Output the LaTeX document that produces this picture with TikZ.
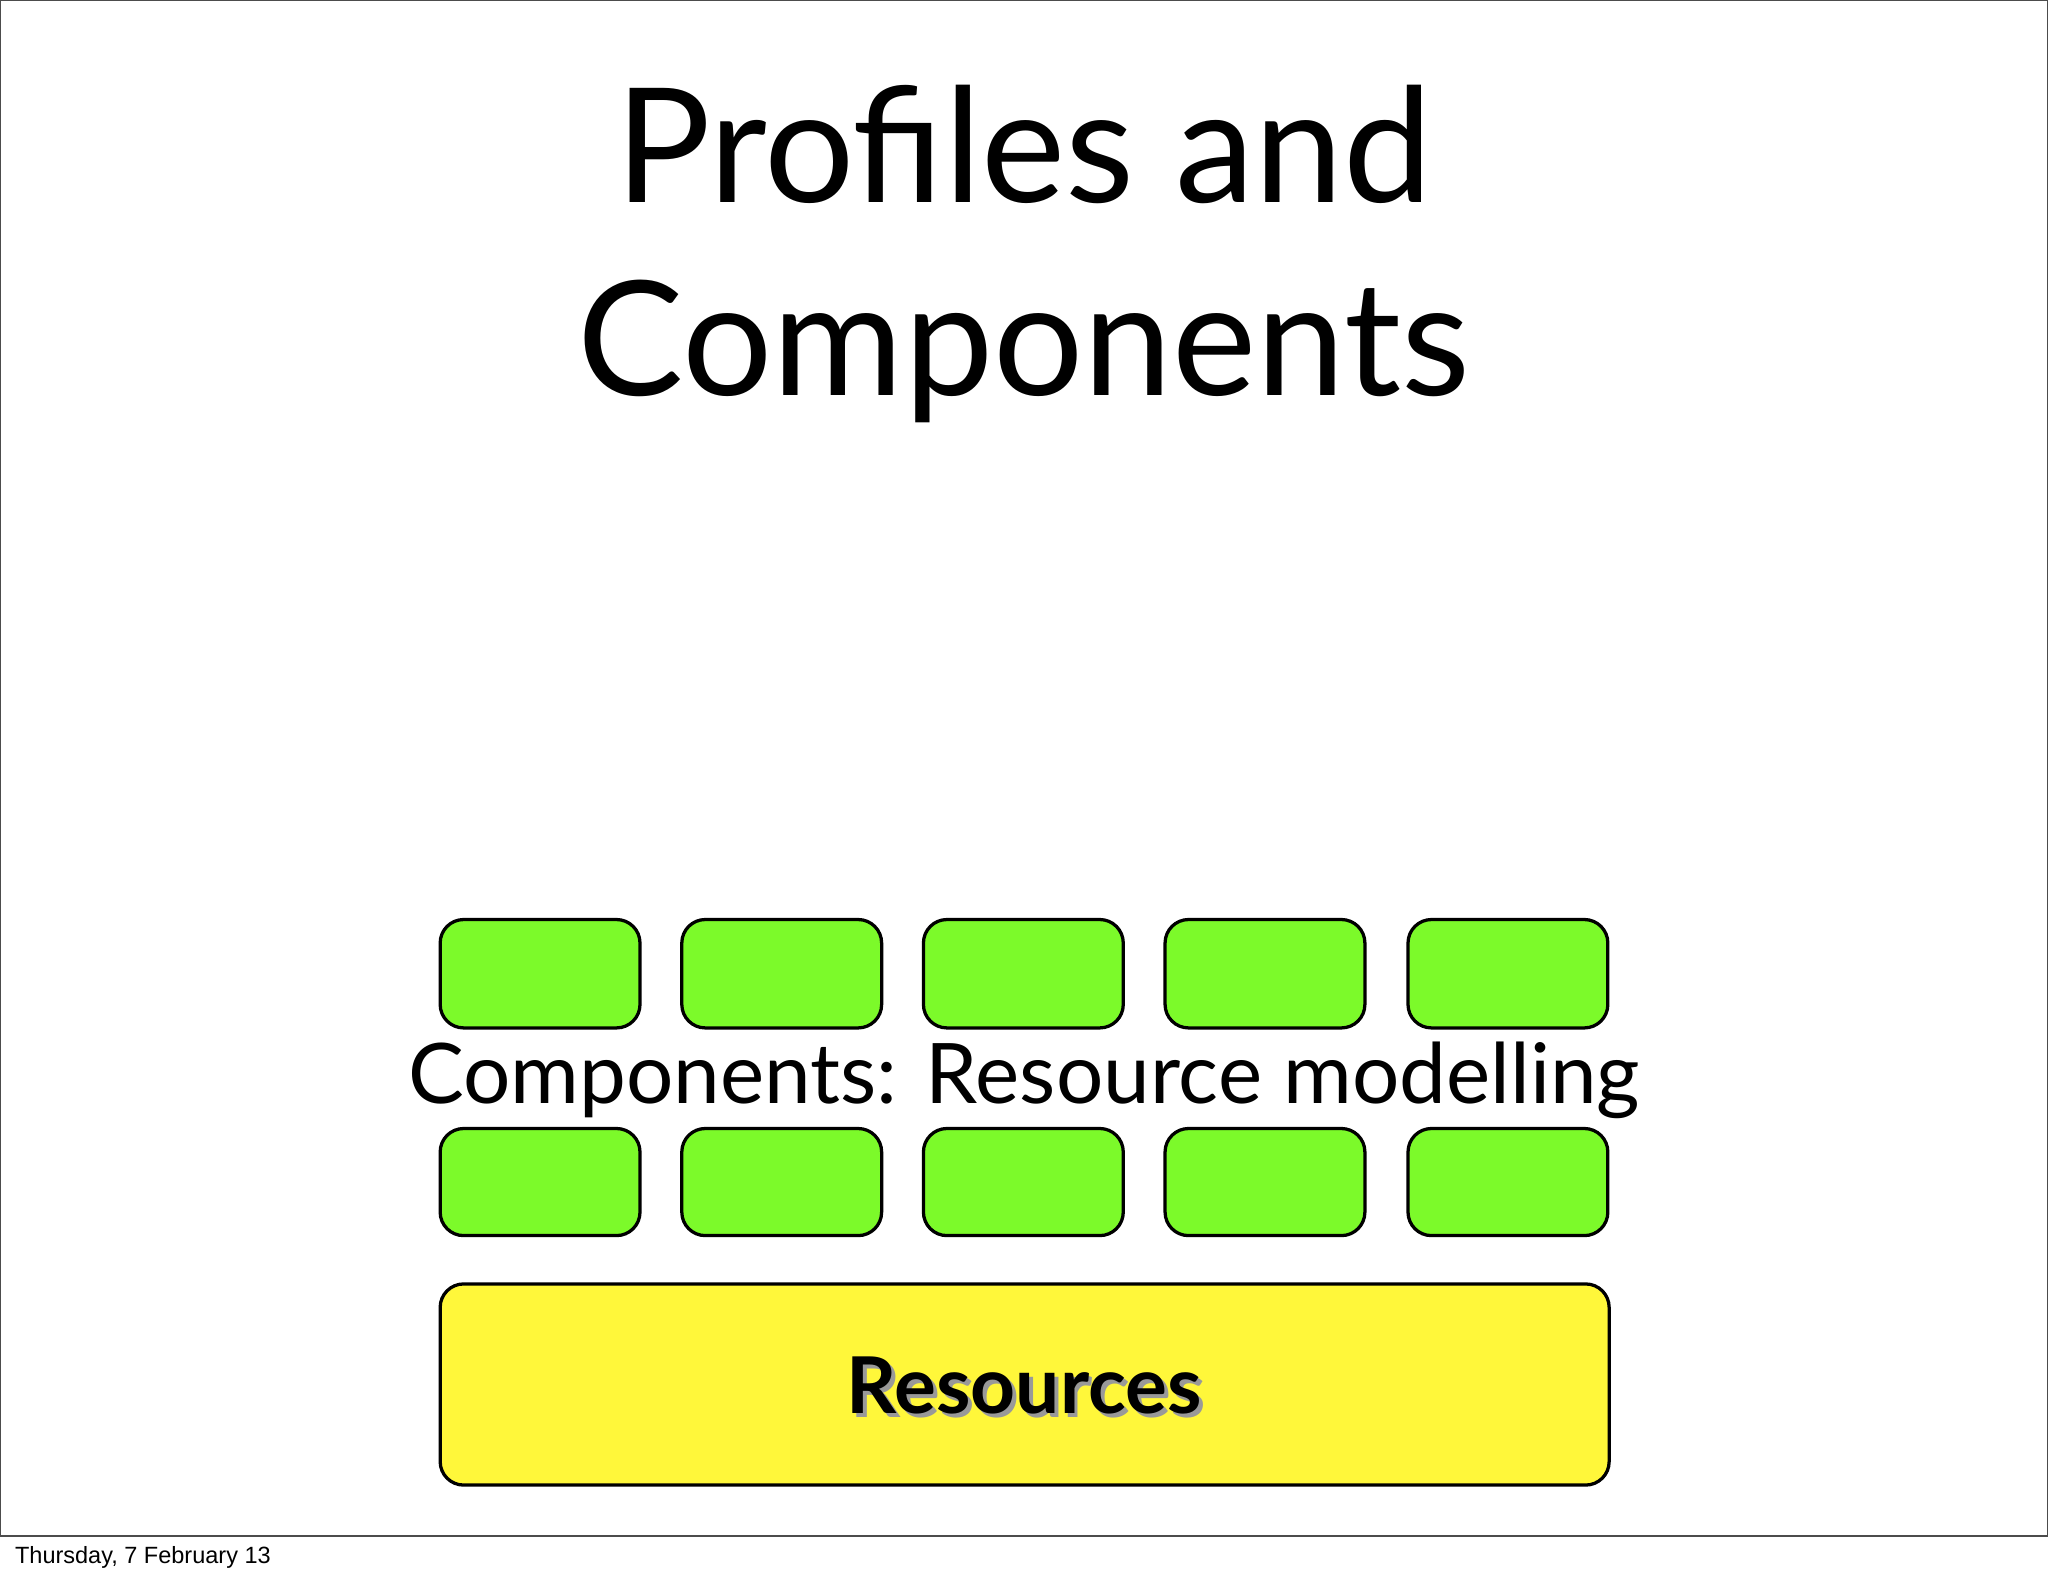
\documentclass[tikz,border=0pt]{standalone}
\usepackage{fontspec}
\setmainfont{Lato}
\newfontfamily\footfont{Liberation Sans}
\definecolor{boxgreen}{RGB}{124,250,42}
\definecolor{boxyellow}{RGB}{255,247,58}
\begin{document}
\begin{tikzpicture}[x=1pt,y=-1pt,
  comp/.style={draw=black,line width=2.5pt,rounded corners=18pt,fill=boxgreen},
  res/.style={draw=black,line width=2.5pt,rounded corners=18pt,fill=boxyellow}]
\useasboundingbox (0,0) rectangle (1568,1207);
\draw[line width=1pt,black!70] (0.5,0.5) rectangle (1567.5,1176);
\node[anchor=base,font=\fontsize{122}{130}\selectfont] (t1) at (784,155) {Profiles and};
\node[anchor=base,font=\fontsize{122}{130}\selectfont] (t2) at (784,303) {Components};
\foreach \i/\x in {1/337,2/522,3/707,4/892,5/1078}{
  \path[comp] (\x,704) rectangle ++(153,83) node[midway] (a\i) {};
  \path[comp] (\x,864) rectangle ++(153,82) node[midway] (b\i) {};
}
\node[anchor=base,font=\fontsize{64}{70}\selectfont] (lbl) at (784,845) {Components: Resource modelling};
\path[res] (337,983) rectangle (1232,1137) node[midway] (r) {};
\node[anchor=base,font=\fontsize{60}{66}\selectfont\bfseries,text=black!40] at (787,1085) {Resources};
\node[anchor=base,font=\fontsize{60}{66}\selectfont\bfseries] (rl) at (784,1082) {Resources};
\node[anchor=base west,font=\footfont\fontsize{18}{20}\selectfont] (foot) at (8,1197) {Thursday, 7 February 13};
\end{tikzpicture}
\end{document}
